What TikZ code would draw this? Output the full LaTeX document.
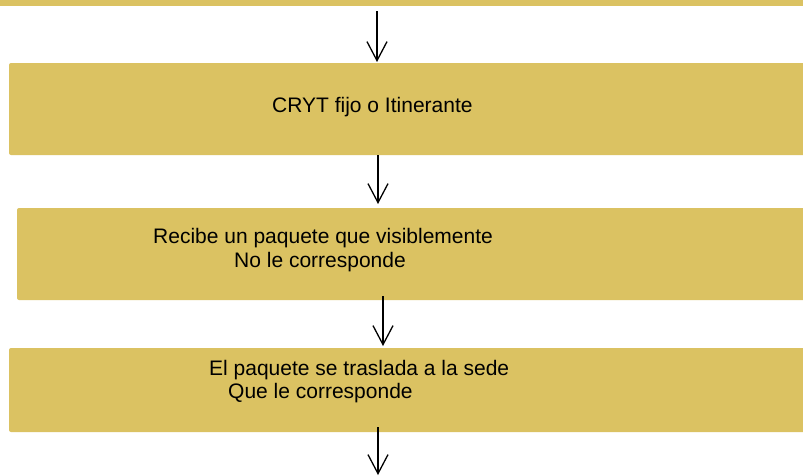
\documentclass[tikz,border=0pt]{standalone}
\usepackage{fontspec}
\setmainfont{Liberation Sans}
\usetikzlibrary{arrows.meta}
\definecolor{gold}{RGB}{219,194,98}
\tikzset{
  box/.style={fill=gold, draw=none, rounded corners=2pt, anchor=north west, inner sep=0pt, outer sep=0pt},
  lbl/.style={anchor=base west, inner sep=0pt, font=\fontsize{21}{24}\selectfont, text=black},
  flow/.style={draw=black, line width=1.3pt, -{Straight Barb[length=19pt,width=20pt,line width=1.3pt]}}
}
\begin{document}
\begin{tikzpicture}[x=1pt,y=-1pt]
\useasboundingbox (0,0) rectangle (803,475);
% top bar
\node[box, rounded corners=0pt, minimum width=803pt, minimum height=6pt] (bar) at (0,0) {};
% boxes
\node[box, minimum width=797pt, minimum height=92pt] (b1) at (9,63) {};
\node[box, minimum width=789pt, minimum height=92pt] (b2) at (17,208) {};
\node[box, minimum width=797pt, minimum height=84pt] (b3) at (9,348) {};
% labels
\node[lbl] (t1) at (272,112) {CRYT fijo o Itinerante};
\node[lbl] (t2a) at (153,243) {Recibe un paquete que visiblemente};
\node[lbl] (t2b) at (234,267) {No le corresponde};
\node[lbl] (t3a) at (209,375) {El paquete se traslada a la sede};
\node[lbl] (t3b) at (228,398) {Que le corresponde};
% arrow endpoints
\coordinate (s1) at (377,11);
\coordinate (x2) at (378,0);
\coordinate (s3) at (383,296);
\coordinate (s4) at (378,427);
\coordinate (e4) at (378,475);
\draw[flow] (s1) -- ([yshift=1pt]s1 |- b1.north);
\draw[flow] (x2 |- b1.south) -- ([yshift=4pt]x2 |- b2.north);
\draw[flow] (s3) -- ([yshift=2pt]s3 |- b3.north);
\draw[flow] (s4) -- (e4);
\end{tikzpicture}
\end{document}
